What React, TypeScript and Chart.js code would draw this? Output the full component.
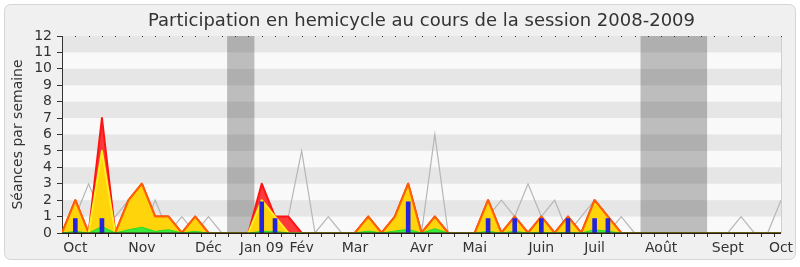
import React, { useEffect, useRef } from 'react';
import { Chart, registerables } from 'chart.js';

Chart.register(...registerables);

const FONT = "'DejaVu Sans', sans-serif";

const titre = 'Participation en hemicycle au cours de la session 2008-2009';
const titreAxeY = 'Séances par semaine';

const moisLabels = ['Oct', 'Nov', 'Déc', 'Jan 09', 'Fév', 'Mar', 'Avr', 'Mai', 'Juin', 'Juil', 'Août', 'Sept', 'Oct'];
const moisSemaines = [1, 6, 11, 15, 18, 22, 27, 31, 36, 40, 45, 50, 54];

// Séances (rouge)
const seances = [
  0, 2, 0, 7, 0, 2, 3, 1, 1, 0,
  1, 0, 0, 0, 0, 3, 1, 1, 0, 0,
  0, 0, 0, 1, 0, 1, 3, 0, 1, 0,
  0, 0, 2, 0, 1, 0, 1, 0, 1, 0,
  2, 1, 0, 0, 0, 0, 0, 0, 0, 0,
  0, 0, 0, 0, 0,
];
// Présences (jaune)
const presences = [
  0, 2, 0, 5, 0, 2, 3, 1, 1, 0,
  1, 0, 0, 0, 0, 2, 1, 0, 0, 0,
  0, 0, 0, 1, 0, 1, 3, 0, 1, 0,
  0, 0, 2, 0, 1, 0, 1, 0, 1, 0,
  2, 1, 0, 0, 0, 0, 0, 0, 0, 0,
  0, 0, 0, 0, 0,
];
// Interventions (vert)
const interventions = [
  0, 0.1, 0, 0.4, 0, 0.2, 0.35, 0.1, 0.2, 0,
  0.1, 0, 0, 0, 0, 0.1, 0.1, 0, 0, 0,
  0, 0, 0, 0.12, 0, 0.12, 0.22, 0, 0.26, 0,
  0, 0, 0.1, 0, 0.1, 0, 0.05, 0, 0.05, 0,
  0.2, 0.1, 0, 0, 0, 0, 0, 0, 0, 0,
  0, 0, 0, 0, 0,
];
// Questions (bleu)
const questions = [
  null, 0.88, null, 0.88, null, null, null, null, null, null,
  null, null, null, null, null, 1.9, 0.88, null, null, null,
  null, null, null, null, null, null, 1.9, null, null, null,
  null, null, 0.88, null, 0.88, null, 0.88, null, 0.88, null,
  0.88, 0.88, null, null, null, null, null, null, null, null,
  null, null, null, null, null,
];
// Médiane des députés (gris)
const mediane = [
  0, 1, 3, 1, 1, 2, 0, 2, 0, 1,
  0, 1, 0, 0, 0, 2, 1, 1, 5, 0,
  1, 0, 0, 1, 0, 1, 2, 0, 6, 0,
  0, 0, 1, 2, 1, 3, 1, 2, 0, 1,
  2, 0, 1, 0, 0, 0, 0, 0, 0, 0,
  0, 1, 0, 0, 2,
];

const vacancesDebut = [12.4, 43.45];
const vacancesFin = [14.45, 48.45];

const pts = (arr: (number | null)[]) =>
  arr.map((v, i) => (v === null ? null : { x: i, y: v })).filter((p) => p !== null) as { x: number; y: number }[];

const decorPlugin = {
  id: 'decor',
  beforeDraw(chart: any) {
    const { ctx, chartArea, scales } = chart;
    const x = scales.x;
    const y = scales.y;
    ctx.save();
    ctx.fillStyle = '#ffffff';
    ctx.fillRect(0, 0, chart.width, chart.height);
    ctx.beginPath();
    ctx.roundRect(4.5, 4.5, 791, 255, 6);
    ctx.fillStyle = '#f0f0f0';
    ctx.fill();
    ctx.strokeStyle = '#d6d6d6';
    ctx.lineWidth = 1;
    ctx.stroke();
    // stripes
    ctx.fillStyle = '#f9f9f9';
    ctx.fillRect(chartArea.left, chartArea.top, chartArea.right - chartArea.left, chartArea.bottom - chartArea.top);
    ctx.fillStyle = '#e6e6e6';
    for (let v = 1; v < 12; v += 2) {
      const top = y.getPixelForValue(v + 1);
      const bot = y.getPixelForValue(v);
      ctx.fillRect(chartArea.left, top, chartArea.right - chartArea.left, bot - top);
    }
    // vacances
    ctx.fillStyle = 'rgba(0,0,0,0.24)';
    for (let k = 0; k < vacancesDebut.length; k++) {
      const a = x.getPixelForValue(vacancesDebut[k]);
      const b = x.getPixelForValue(vacancesFin[k]);
      ctx.fillRect(a, chartArea.top, b - a, chartArea.bottom - chartArea.top);
    }
    // right border
    ctx.fillStyle = '#cfcfcf';
    ctx.fillRect(chartArea.right, chartArea.top, 1, chartArea.bottom - chartArea.top);
    // top dots
    ctx.fillStyle = '#333333';
    for (let i = 0; i < seances.length; i++) {
      const px = Math.round(x.getPixelForValue(i));
      ctx.fillRect(px, chartArea.top, 1, 1);
    }
    ctx.restore();
  },
  afterDatasetsDraw(chart: any) {
    const { ctx, chartArea } = chart;
    ctx.save();
    ctx.strokeStyle = '#2a1a1a';
    ctx.lineWidth = 1.5;
    ctx.beginPath();
    ctx.moveTo(chartArea.left, chartArea.bottom + 0.25);
    ctx.lineTo(chartArea.right, chartArea.bottom + 0.25);
    ctx.stroke();
    ctx.restore();
  },
  afterDraw(chart: any) {
    const { ctx, chartArea } = chart;
    ctx.save();
    ctx.fillStyle = '#333333';
    ctx.font = `18px ${FONT}`;
    ctx.textAlign = 'center';
    ctx.textBaseline = 'alphabetic';
    ctx.fillText(titre, (chartArea.left + chartArea.right) / 2, 26);
    ctx.translate(18, (chartArea.top + chartArea.bottom) / 2);
    ctx.rotate(-Math.PI / 2);
    ctx.font = `14px ${FONT}`;
    ctx.textBaseline = 'middle';
    ctx.fillText(titreAxeY, 0, 0);
    ctx.restore();
  },
};

export default function App() {
  const ref = useRef<HTMLCanvasElement>(null);
  useEffect(() => {
    if (!ref.current) return;
    const chart = new Chart(ref.current, {
      type: 'line',
      data: {
        datasets: [
          {
            type: 'bar',
            data: pts(questions),
            backgroundColor: '#2424dc',
            barThickness: 4,
            borderWidth: 0,
          } as any,
          {
            data: pts(interventions),
            fill: 'origin',
            backgroundColor: '#3ae83a',
            borderColor: '#28dc28',
            borderWidth: 1,
            pointRadius: 0,
          },
          {
            data: pts(presences),
            fill: 'origin',
            backgroundColor: '#ffd40a',
            borderColor: '#ff6000',
            borderWidth: 2,
            borderJoinStyle: 'round',
            pointRadius: 0,
            segment: {
              borderColor: (c: any) =>
                seances[c.p0DataIndex] > presences[c.p0DataIndex] || seances[c.p1DataIndex] > presences[c.p1DataIndex]
                  ? '#ffee20'
                  : '#ff6000',
            },
          },
          {
            data: pts(seances),
            fill: 'origin',
            backgroundColor: '#ff3a3a',
            borderColor: '#ff1414',
            borderWidth: 2,
            borderJoinStyle: 'round',
            pointRadius: 0,
          },
          {
            data: pts(mediane),
            fill: false,
            borderColor: '#b6b6b6',
            borderWidth: 1.2,
            pointRadius: 0,
          },
        ],
      },
      options: {
        responsive: false,
        animation: false,
        events: [],
        layout: { padding: { left: 0, top: 36, right: 19, bottom: 0 } },
        plugins: { legend: { display: false }, title: { display: false }, tooltip: { enabled: false } },
        elements: { line: { tension: 0 } },
        scales: {
          x: {
            type: 'linear',
            min: 0,
            max: 54,
            offset: false,
            afterFit: (s: any) => {
              s.height = 34;
            },
            border: { display: false },
            grid: { drawOnChartArea: false, drawTicks: true, tickLength: 4, color: '#333333' },
            ticks: {
              stepSize: 1,
              autoSkip: false,
              maxRotation: 0,
              padding: 3,
              color: '#333333',
              font: { family: FONT, size: 14 },
              callback: (v: any) => {
                const k = moisSemaines.indexOf(Number(v));
                return k >= 0 ? moisLabels[k] : '';
              },
            },
          },
          y: {
            min: 0,
            max: 12,
            afterFit: (s: any) => {
              s.width = 62;
            },
            border: { display: true, color: '#333333', width: 1 },
            grid: { drawOnChartArea: false, drawTicks: true, tickLength: 5, color: '#333333' },
            ticks: {
              stepSize: 1,
              autoSkip: false,
              padding: 5,
              color: '#333333',
              font: { family: FONT, size: 14 },
            },
          },
        },
      },
      plugins: [decorPlugin],
    });
    return () => chart.destroy();
  }, []);
  return (
    <div style={{ position: 'fixed', left: 0, top: 0, width: 800, height: 267 }}>
      <canvas ref={ref} width={800} height={267} style={{ width: 800, height: 267, display: 'block' }} />
    </div>
  );
}
